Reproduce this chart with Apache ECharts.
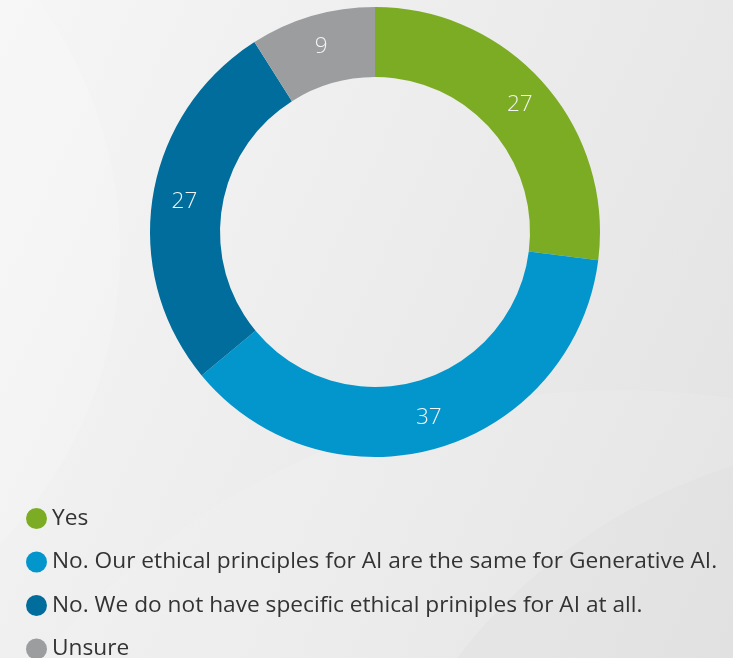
<!DOCTYPE html>
<html>
<head>
<meta charset="utf-8">
<script src="https://cdn.jsdelivr.net/npm/echarts@6/dist/echarts.min.js"></script>
<style>
  html, body { margin: 0; padding: 0; }
  body {
    width: 733px; height: 658px; overflow: hidden;
    background: linear-gradient(115deg, #f6f6f6 0%, #ededed 45%, #e2e2e2 100%);
  }
  #chart { width: 733px; height: 760px; }
</style>
</head>
<body>
<div id="chart"></div>
<script>
// Survey answers, clockwise from the top
const categories = [
  'Yes',
  'No. Our ethical principles for AI are the same for Generative AI.',
  'No. We do not have specific ethical priniples for AI at all.',
  'Unsure'
];
const values = [27, 37, 27, 9];
const colors = ['#7cac24', '#0396cc', '#016d9c', '#9c9d9f'];

const chart = echarts.init(document.getElementById('chart'), null, { renderer: 'canvas' });

chart.setOption({
  backgroundColor: 'transparent',
  animation: false,
  color: colors,
  graphic: [
    // soft light sweeps in the backdrop
    { type: 'circle', silent: true, z: -10, shape: { cx: 900, cy: 1000, r: 560 },
      style: { fill: 'rgba(0,0,0,0.018)' } },
    { type: 'circle', silent: true, z: -10, shape: { cx: 620, cy: 1150, r: 760 },
      style: { fill: 'rgba(255,255,255,0.10)' } },
    { type: 'circle', silent: true, z: -10, shape: { cx: -300, cy: 250, r: 420 },
      style: { fill: 'rgba(255,255,255,0.18)' } }
  ],
  legend: {
    orient: 'vertical',
    left: 21,
    top: 502,
    icon: 'circle',
    itemWidth: 21,
    itemHeight: 21,
    itemGap: 20.5,
    textStyle: {
      fontFamily: 'Open Sans',
      fontSize: 22.7,
      lineHeight: 22,
      color: '#333333'
    },
    data: categories
  },
  series: [{
    type: 'pie',
    center: [375, 232],
    radius: [155, 225],
    startAngle: 90,
    clockwise: true,
    avoidLabelOverlap: false,
    itemStyle: { borderWidth: 0 },
    label: {
      show: true,
      position: 'inside',
      formatter: '{c}',
      fontFamily: 'Open Sans',
      fontWeight: 300,
      fontSize: 22.5,
      color: '#f4f4f4'
    },
    labelLine: { show: false },
    emphasis: { disabled: true },
    data: categories.map((name, i) => ({ name: name, value: values[i] }))
  }]
});
</script>
</body>
</html>
